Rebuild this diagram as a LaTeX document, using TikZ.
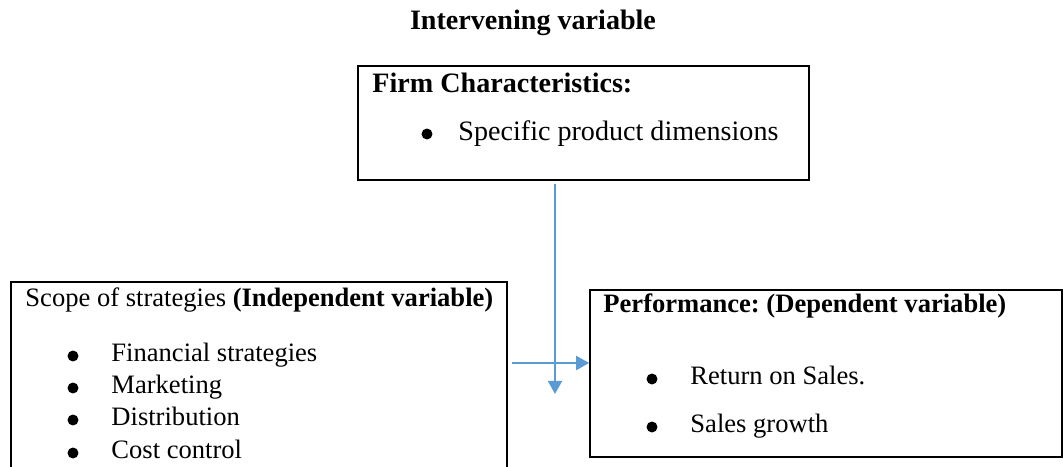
\documentclass[tikz,border=0pt]{standalone}
\usepackage{fontspec}
\setmainfont{Liberation Serif}
\usetikzlibrary{arrows.meta, positioning}

\definecolor{arrowblue}{RGB}{91,155,213}

\begin{document}
\frenchspacing
\begin{tikzpicture}[x=0.016cm, y=-0.016cm,
  box/.style={rectangle, draw, line width=0.8pt, inner sep=0pt},
  txt/.style={anchor=base west, inner sep=0pt, font=\fontsize{12.1}{15}\selectfont},
  big/.style={txt, font=\fontsize{12.8}{15}\selectfont},
  dot/.style={circle, fill, inner sep=0pt, minimum size=5pt},
  link/.style={draw=arrowblue, line width=0.7pt, -{Triangle[width=6.5pt, length=6pt]}}]
  \useasboundingbox (0,0) rectangle (1064,467);

  \node[big, font=\fontsize{12.8}{15}\selectfont\bfseries, anchor=base] (title) at (533,30) {Intervening variable};

  % boxes
  \node[box, minimum width=7.216cm, minimum height=1.824cm] (firm) at (583.5,123) {};
  \node[box, minimum width=7.936cm, minimum height=3.6cm] (scope) at (259,394.5) {};
  \node[box, minimum width=7.552cm, minimum height=2.672cm] (perf) at (826,373.5) {};

  % intervening variable
  \node[big, font=\fontsize{12.8}{15}\selectfont\bfseries] (firmhead) at (372,93) {Firm Characteristics:};
  \node[dot] (b1) at (427,134) {};
  \node[big] (spec) at (458,141) {Specific product dimensions};

  % independent variable
  \node[txt] (scopehead) at (25,307) {Scope of strategies \textbf{(Independent variable)}};
  \node[dot] (b2) at (73,356) {};
  \node[txt] (fin) at (111,362) {Financial strategies};
  \node[dot] (b3) at (73,388) {};
  \node[txt] (mkt) at (111,394) {Marketing};
  \node[dot] (b4) at (73,420) {};
  \node[txt] (dist) at (111,426) {Distribution};
  \node[dot] (b5) at (73,453) {};
  \node[txt] (cost) at (111,459) {Cost control};

  % dependent variable
  \node[txt, font=\fontsize{12.1}{15}\selectfont\bfseries] (perfhead) at (603,313) {Performance: (Dependent variable)};
  \node[dot] (b6) at (652,379) {};
  \node[txt] (ros) at (690,385) {Return on Sales.};
  \node[dot] (b7) at (652,427) {};
  \node[txt] (growth) at (690,433) {Sales growth};

  % arrows
  \coordinate (down) at (555,394);
  \coordinate (from) at (512,363);
  \draw[link] (firm.south -| down) ++(0,3) -- (down);
  \draw[link] (from) -- (from -| perf.west);
\end{tikzpicture}
\end{document}
